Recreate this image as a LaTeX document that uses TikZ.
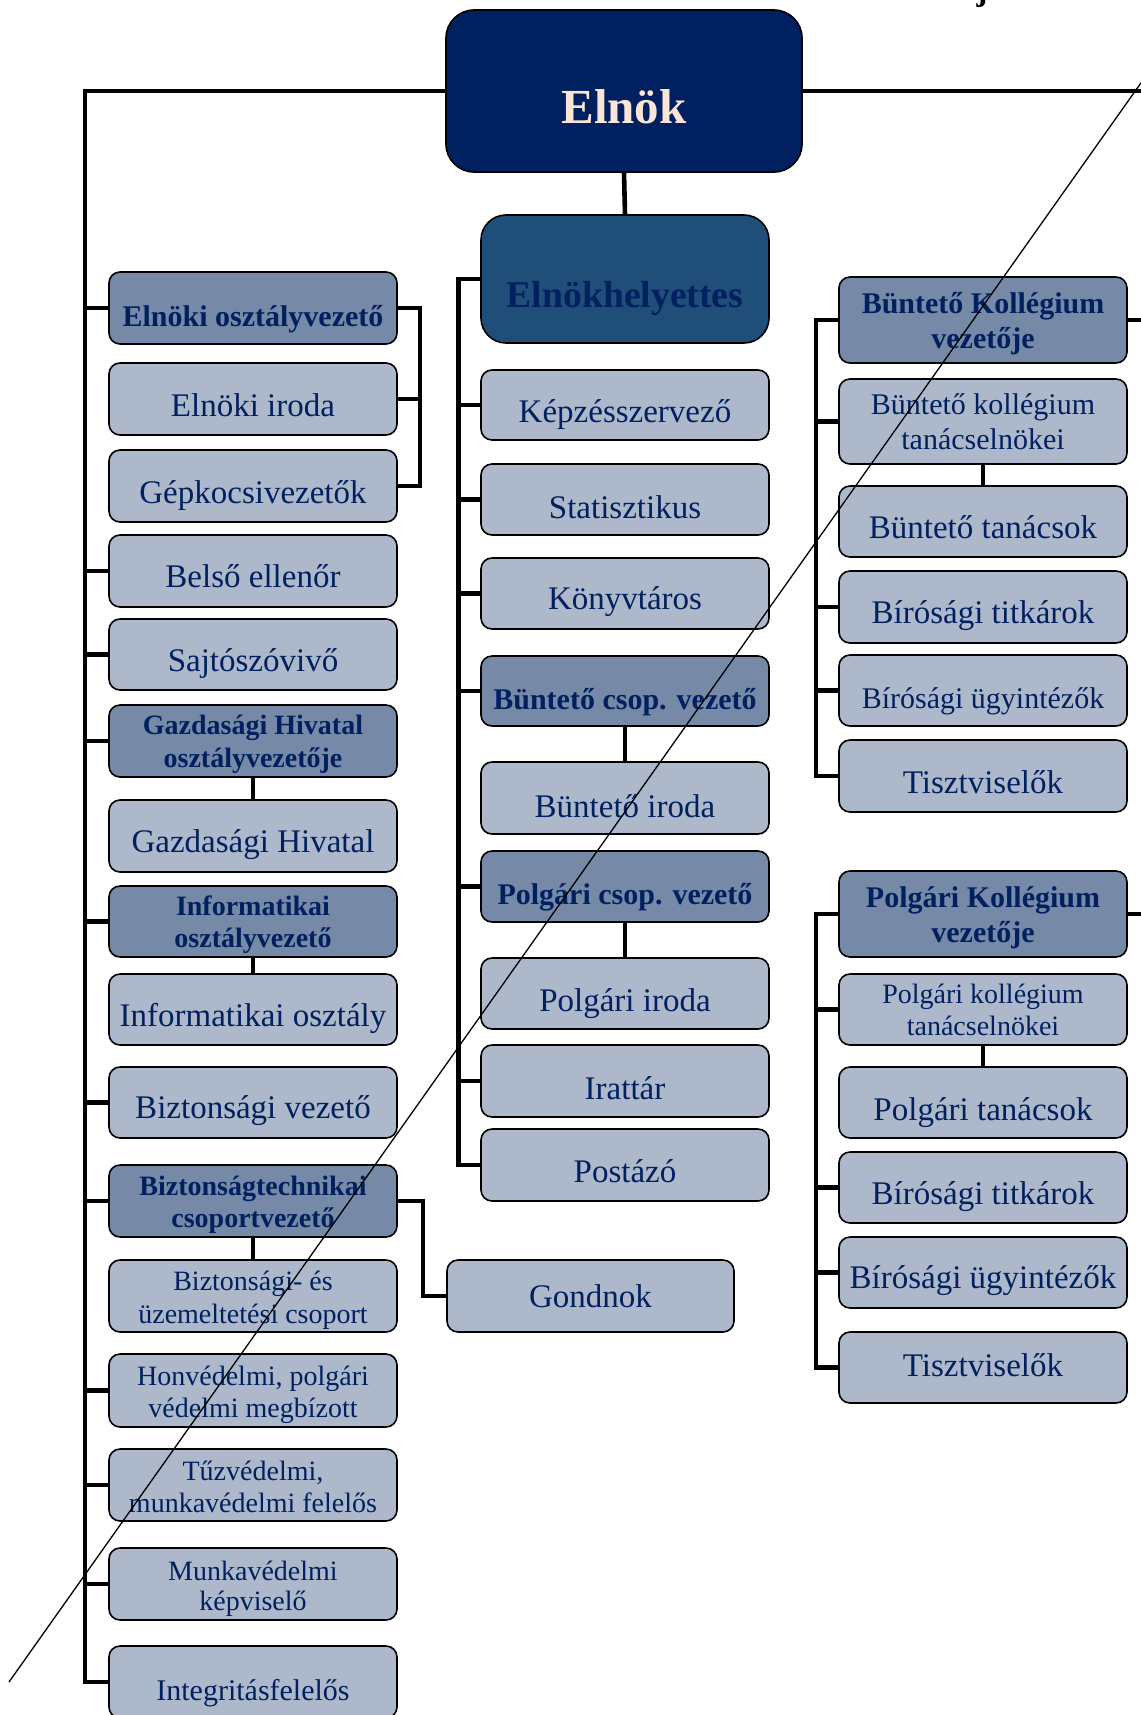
\documentclass[tikz,border=0pt]{standalone}
\usepackage{fontspec}
\setmainfont{Liberation Serif}
\definecolor{navy}{RGB}{0,32,96}
\definecolor{cream}{RGB}{251,229,214}
\definecolor{ehfill}{RGB}{31,78,121}
\definecolor{headfill}{RGB}{118,137,166}
\definecolor{lightfill}{RGB}{173,185,202}
% #1 name, #2 style, #3 x1, #4 y1, #5 x2, #6 y2 (pixel units)
\newcommand\orgbox[6]{\node[#2, minimum width={(#5-#3)*0.5pt}, minimum height={(#6-#4)*0.5pt}] (#1) at ({(#3+#5)/2},{(#4+#6)/2}) {};}
% #1 name, #2 font style, #3 box, #4 baseline offset below centre (px), #5 text
\newcommand\orglbl[5]{\node[lbl, #2] (#1) at ([yshift={-(#4)*0.5pt}]#3.center) {#5};}
\begin{document}
\begin{tikzpicture}[x=0.5pt,y=-0.5pt,
  boxbase/.style={draw=black, line width=0.8pt, rounded corners=5.5pt, inner sep=0pt, outer sep=0pt},
  lightbox/.style={boxbase, fill=lightfill},
  headbox/.style={boxbase, fill=headfill},
  topbox/.style={boxbase, fill=navy, rounded corners=14pt},
  ehbox/.style={boxbase, fill=ehfill, rounded corners=12.5pt},
  conn/.style={line width=2.3pt, draw=black, line join=miter},
  lbl/.style={anchor=base, inner sep=0pt, outer sep=0pt, text=navy},
  f165/.style={font=\fontsize{16.5}{19}\selectfont},
  f15/.style={font=\fontsize{15}{17}\selectfont},
  f14/.style={font=\fontsize{14}{16}\selectfont},
  fb15/.style={font=\bfseries\fontsize{15}{17}\selectfont},
  fb14/.style={font=\bfseries\fontsize{14}{16}\selectfont},
  fElnok/.style={font=\bfseries\fontsize{24.5}{28}\selectfont, text=cream},
  fEH/.style={font=\bfseries\fontsize{18.85}{22}\selectfont},
]
\useasboundingbox (0,0) rectangle (1141,1715);
\fill[white] (0,0) rectangle (1141,1715);

% ---------- boxes ----------
\orgbox{elnok}{topbox}{446}{10}{802}{172}
\orgbox{eh}{ehbox}{481}{215}{769}{343}
% left column
\orgbox{eov}{headbox}{109}{272}{397}{344}
\orgbox{eiroda}{lightbox}{109}{363}{397}{435}
\orgbox{gepkocsi}{lightbox}{109}{450}{397}{522}
\orgbox{belso}{lightbox}{109}{535}{397}{607}
\orgbox{sajto}{lightbox}{109}{619}{397}{690}
\orgbox{gho}{headbox}{109}{705}{397}{777}
\orgbox{gh}{lightbox}{109}{800}{397}{872}
\orgbox{iov}{headbox}{109}{886}{397}{957}
\orgbox{io}{lightbox}{109}{974}{397}{1045}
\orgbox{bizvez}{lightbox}{109}{1067}{397}{1138}
\orgbox{btcs}{headbox}{109}{1165}{397}{1237}
\orgbox{bucs}{lightbox}{109}{1260}{397}{1332}
\orgbox{honv}{lightbox}{109}{1354}{397}{1427}
\orgbox{tuzv}{lightbox}{109}{1449}{397}{1521}
\orgbox{munkav}{lightbox}{109}{1548}{397}{1620}
\orgbox{integ}{lightbox}{109}{1646}{397}{1718}
\orgbox{gondnok}{lightbox}{447}{1260}{734}{1332}
% middle column
\orgbox{kepzes}{lightbox}{481}{370}{769}{440}
\orgbox{stat}{lightbox}{481}{464}{769}{535}
\orgbox{konyv}{lightbox}{481}{558}{769}{629}
\orgbox{bcsop}{headbox}{481}{656}{769}{726}
\orgbox{biroda}{lightbox}{481}{762}{769}{834}
\orgbox{pcsop}{headbox}{481}{851}{769}{922}
\orgbox{piroda}{lightbox}{481}{958}{769}{1029}
\orgbox{irattar}{lightbox}{481}{1045}{769}{1117}
\orgbox{postazo}{lightbox}{481}{1129}{769}{1201}
% right column
\orgbox{bkv}{headbox}{839}{277}{1127}{363}
\orgbox{bkt}{lightbox}{839}{379}{1127}{464}
\orgbox{bt}{lightbox}{839}{486}{1127}{557}
\orgbox{btit}{lightbox}{839}{571}{1127}{643}
\orgbox{bu}{lightbox}{839}{655}{1127}{726}
\orgbox{btisz}{lightbox}{839}{740}{1127}{812}
\orgbox{pkv}{headbox}{839}{871}{1127}{957}
\orgbox{pkt}{lightbox}{839}{974}{1127}{1045}
\orgbox{pt}{lightbox}{839}{1067}{1127}{1138}
\orgbox{ptit}{lightbox}{839}{1152}{1127}{1223}
\orgbox{pu}{lightbox}{839}{1237}{1127}{1308}
\orgbox{ptisz}{lightbox}{839}{1332}{1127}{1403}

% ---------- labels ----------
\orglbl{elnok-t}{fElnok}{elnok}{32}{Elnök}
\orglbl{eh-t}{fEH}{eh}{28}{Elnökhelyettes}

\orglbl{eov-t}{fb15}{eov}{18}{Elnöki osztályvezető}
\orglbl{eiroda-t}{f165}{eiroda}{17}{Elnöki iroda}
\orglbl{gepkocsi-t}{f165}{gepkocsi}{17}{Gépkocsivezetők}
\orglbl{belso-t}{f165}{belso}{16.5}{Belső ellenőr}
\orglbl{sajto-t}{f165}{sajto}{16.5}{Sajtószóvivő}
\orglbl{gho-t1}{fb14}{gho}{-7}{Gazdasági Hivatal}
\orglbl{gho-t2}{fb14}{gho}{26}{osztályvezetője}
\orglbl{gh-t}{f165}{gh}{16.5}{Gazdasági Hivatal}
\orglbl{iov-t1}{fb14}{iov}{-6.5}{Informatikai}
\orglbl{iov-t2}{fb14}{iov}{25.5}{osztályvezető}
\orglbl{io-t}{f165}{io}{16.5}{Informatikai osztály}
\orglbl{bizvez-t}{f165}{bizvez}{16}{Biztonsági vezető}
\orglbl{btcs-t1}{fb14}{btcs}{-6}{Biztonságtechnikai}
\orglbl{btcs-t2}{fb14}{btcs}{26}{csoportvezető}
\orglbl{bucs-t1}{f14}{bucs}{-6}{Biztonsági- és}
\orglbl{bucs-t2}{f14}{bucs}{27}{üzemeltetési csoport}
\orglbl{honv-t1}{f14}{honv}{-5.5}{Honvédelmi, polgári}
\orglbl{honv-t2}{f14}{honv}{26.5}{védelmi megbízott}
\orglbl{tuzv-t1}{f14}{tuzv}{-5}{Tűzvédelmi,}
\orglbl{tuzv-t2}{f14}{tuzv}{27}{munkavédelmi felelős}
\orglbl{munkav-t1}{f14}{munkav}{-4}{Munkavédelmi}
\orglbl{munkav-t2}{f14}{munkav}{26}{képviselő}
\orglbl{integ-t}{f15}{integ}{18}{Integritásfelelős}
\orglbl{gondnok-t}{f165}{gondnok}{11}{Gondnok}

\orglbl{kepzes-t}{f165}{kepzes}{17}{Képzésszervező}
\orglbl{stat-t}{f165}{stat}{19}{Statisztikus}
\orglbl{konyv-t}{f165}{konyv}{16}{Könyvtáros}
\orglbl{bcsop-t}{fb15}{bcsop}{18}{Büntető csop. vezető}
\orglbl{biroda-t}{f165}{biroda}{19}{Büntető iroda}
\orglbl{pcsop-t}{fb15}{pcsop}{18}{Polgári csop. vezető}
\orglbl{piroda-t}{f165}{piroda}{18}{Polgári iroda}
\orglbl{irattar-t}{f165}{irattar}{18}{Irattár}
\orglbl{postazo-t}{f165}{postazo}{17.5}{Postázó}

\orglbl{bkv-t1}{fb15}{bkv}{-7}{Büntető Kollégium}
\orglbl{bkv-t2}{fb15}{bkv}{28}{vezetője}
\orglbl{bkt-t1}{f15}{bkt}{-7}{Büntető kollégium}
\orglbl{bkt-t2}{f15}{bkt}{27.5}{tanácselnökei}
\orglbl{bt-t}{f165}{bt}{16.5}{Büntető tanácsok}
\orglbl{btit-t}{f165}{btit}{16}{Bírósági titkárok}
\orglbl{bu-t}{f15}{bu}{18}{Bírósági ügyintézők}
\orglbl{btisz-t}{f165}{btisz}{17}{Tisztviselők}
\orglbl{pkv-t1}{fb15}{pkv}{-6.6}{Polgári Kollégium}
\orglbl{pkv-t2}{fb15}{pkv}{28}{vezetője}
\orglbl{pkt-t1}{f14}{pkt}{-6.5}{Polgári kollégium}
\orglbl{pkt-t2}{f14}{pkt}{26}{tanácselnökei}
\orglbl{pt-t}{f165}{pt}{17.5}{Polgári tanácsok}
\orglbl{ptit-t}{f165}{ptit}{16.5}{Bírósági titkárok}
\orglbl{pu-t}{f165}{pu}{15.5}{Bírósági ügyintézők}
\orglbl{ptisz-t}{f165}{ptisz}{8.5}{Tisztviselők}

% ---------- connectors ----------
\coordinate (ltr) at (85,91);
\coordinate (redge) at (1145,91);
\coordinate (eobr) at (420,308);
\coordinate (gbr) at (423,1201);
\coordinate (mtr) at (458.5,279);
\coordinate (rtr) at (816,320);
\coordinate (redge2) at (1145,320);
\coordinate (redge3) at (1145,914);

\draw[conn] (elnok.west) -- (ltr) |- (integ.west);
\draw[conn] (elnok.east) -- (redge);
\draw[conn] (elnok.south) -- (eh.north);
\foreach \n in {eov,belso,sajto,gho,iov,bizvez,btcs,honv,tuzv,munkav}
  \draw[conn] (ltr |- \n.west) -- (\n.west);
\draw[conn] (eov.east) -- (eov.east -| eobr) |- (gepkocsi.east);
\draw[conn] (eiroda.east) -- (eiroda.east -| eobr);
\draw[conn] (gho.south) -- (gh.north);
\draw[conn] (iov.south) -- (io.north);
\draw[conn] (btcs.south) -- (bucs.north);
\draw[conn] (btcs.east) -- (btcs.east -| gbr) |- (gondnok.west);

\draw[conn] (eh.west) -- (eh.west -| mtr) |- (postazo.west);
\foreach \n in {kepzes,stat,konyv,bcsop,pcsop,irattar}
  \draw[conn] (mtr |- \n.west) -- (\n.west);
\draw[conn] (bcsop.south) -- (biroda.north);
\draw[conn] (pcsop.south) -- (piroda.north);

\draw[conn] (bkv.west) -- (bkv.west -| rtr) |- (btisz.west);
\foreach \n in {bkt,btit,bu}
  \draw[conn] (rtr |- \n.west) -- (\n.west);
\draw[conn] (bkt.south) -- (bt.north);
\draw[conn] (bkv.east) -- (redge2);

\draw[conn] (pkv.west) -- (pkv.west -| rtr) |- (ptisz.west);
\foreach \n in {pkt,ptit,pu}
  \draw[conn] (rtr |- \n.west) -- (\n.west);
\draw[conn] (pkt.south) -- (pt.north);
\draw[conn] (pkv.east) -- (redge3);

% fragment of text cut at the top edge
\node[anchor=base, inner sep=0pt, font=\bfseries\fontsize{16.5}{19}\selectfont] (jfrag) at (982,0) {j};

% thin diagonal line across the page
\coordinate (dA) at (9,1682);
\coordinate (dB) at (1160,56);
\draw[line width=0.65pt] (dA) -- (dB);
\end{tikzpicture}
\end{document}
